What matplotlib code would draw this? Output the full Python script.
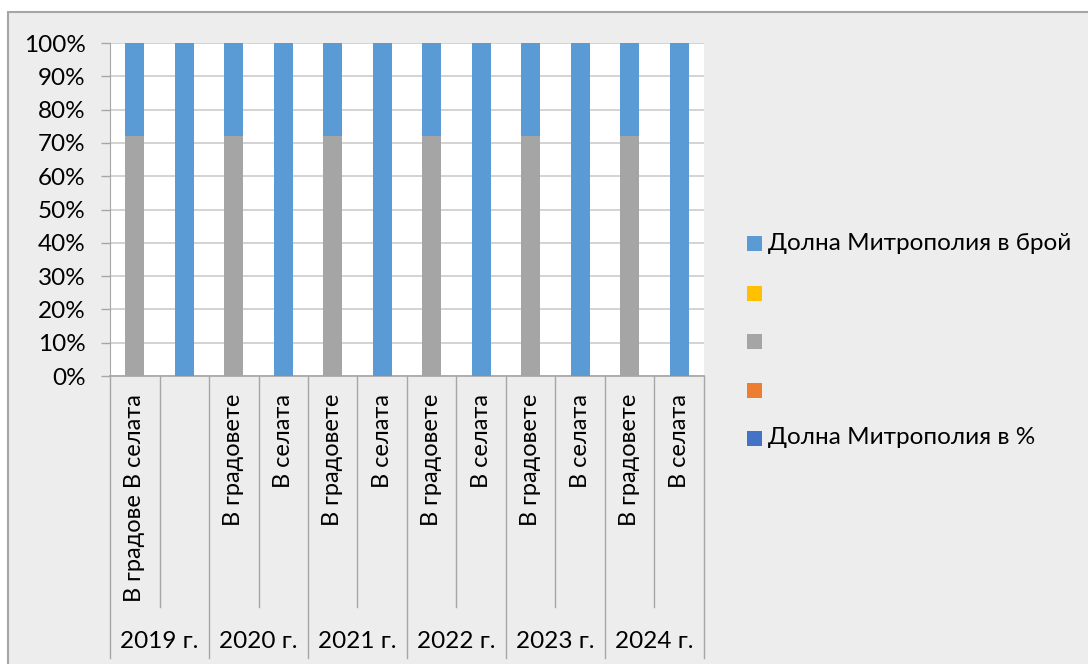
import matplotlib
matplotlib.use("Agg")
import matplotlib.pyplot as plt
from matplotlib.patches import Rectangle
import matplotlib.transforms as mtransforms
from matplotlib.ticker import PercentFormatter

plt.rcParams['font.family'] = ['Lato', 'DejaVu Sans']

W, H = 1088, 664

years = ["2019 г.", "2020 г.", "2021 г.", "2022 г.", "2023 г.", "2024 г."]
categories = ["В градове В селата", "",
              "В градовете", "В селата",
              "В градовете", "В селата",
              "В градовете", "В селата",
              "В градовете", "В селата",
              "В градовете", "В селата"]

# stacked series, bottom to top (already as share of 100%)
share_pct = [0] * 12
orange_vals = [0] * 12
gray_vals = [72, 0, 72, 0, 72, 0, 72, 0, 72, 0, 72, 0]
yellow_vals = [0] * 12
count_vals = [28, 100, 28, 100, 28, 100, 28, 100, 28, 100, 28, 100]

series_names = ["Долна Митрополия в %", "", "", "", "Долна Митрополия в брой"]
series_colors = ["#4472C4", "#ED7D31", "#A5A5A5", "#FFC000", "#5B9BD5"]
series_vals = [share_pct, orange_vals, gray_vals, yellow_vals, count_vals]

GRID = "#D0D0D0"
AXIS = "#A6A6A6"
FS = 17.5


def px_x(x):
    return x / W


def px_y(y):
    return 1 - y / H


fig = plt.figure(figsize=(W / 100, H / 100), dpi=100, facecolor="white")
# chart area background with border on top/left
fig.patches.append(Rectangle((px_x(8), -0.1), 1.2, px_y(12) + 0.1,
                             transform=fig.transFigure, facecolor="#EDEDED",
                             edgecolor=AXIS, linewidth=1.5, zorder=-5))

left, right, top, bottom = 110, 704, 43, 376
ax = fig.add_axes([px_x(left), px_y(bottom), (right - left) / W, (bottom - top) / H])
ax.set_facecolor("white")

x = list(range(len(categories)))
base = [0] * len(categories)
for vals, col in zip(series_vals, series_colors):
    ax.bar(x, vals, bottom=base, width=0.39, color=col, zorder=3)
    base = [b + v for b, v in zip(base, vals)]

ax.set_xlim(-0.5, len(categories) - 0.5)
ax.set_ylim(0, 100)
ax.set_yticks(range(0, 101, 10))
ax.yaxis.set_major_formatter(PercentFormatter(decimals=0))
ax.grid(axis="y", color=GRID, linewidth=1.3, zorder=0)
ax.tick_params(axis="y", length=6.5, width=1, color=AXIS, pad=11, labelsize=FS)
ax.set_xticks([])
for s in ["top", "right"]:
    ax.spines[s].set_visible(False)
ax.spines["left"].set_color(AXIS)
ax.spines["bottom"].set_color(AXIS)
ax.spines["bottom"].set_linewidth(1.2)

trans = mtransforms.blended_transform_factory(ax.transData, ax.transAxes)
ah = bottom - top
short_end = -(607 - bottom) / ah
long_end = -(658 - bottom) / ah
for b in range(len(categories) + 1):
    end = long_end if b % 2 == 0 else short_end
    ax.plot([b - 0.5, b - 0.5], [0, end], transform=trans, color=AXIS,
            linewidth=1, clip_on=False)

for i, lab in enumerate(categories):
    ax.text(i, -(18 / ah), lab, transform=trans, rotation=90, ha="center",
            va="top", fontsize=17)

for g, yr in enumerate(years):
    ax.text(2 * g + 0.5, -(641 - bottom) / ah, yr, transform=trans,
            ha="center", va="center", fontsize=FS)

# legend, Excel order (reversed)
leg_y = [244, 293, 341, 390, 438]
for yy, name, col in zip(leg_y, series_names[::-1], series_colors[::-1]):
    fig.patches.append(Rectangle((px_x(747), px_y(yy + 7.5)), 15 / W, 15 / H,
                                 transform=fig.transFigure, facecolor=col,
                                 edgecolor="none"))
    fig.text(px_x(768), px_y(yy), name, ha="left", va="center", fontsize=FS)

fig.savefig("out.png", dpi=100, facecolor="white")
